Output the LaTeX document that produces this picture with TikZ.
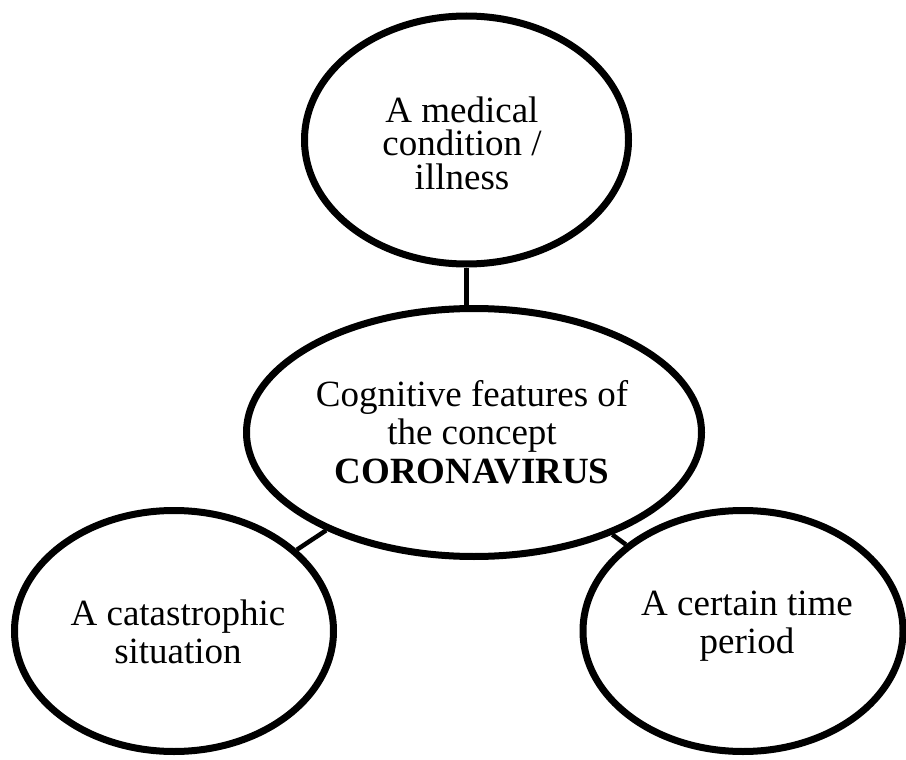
\documentclass[tikz,border=0pt]{standalone}
\usepackage{fontspec}
\setmainfont{Liberation Serif}
\usetikzlibrary{shapes.geometric}
\tikzset{
  bubble/.style={draw=black, line width=7pt, fill=white, ellipse, inner sep=0pt},
  label text/.style={inner sep=0pt, align=center, font=\fontsize{37}{38.5}\selectfont},
  tight text/.style={inner sep=0pt, align=center, font=\fontsize{37}{33.5}\selectfont},
  link/.style={draw=black, line width=4.5pt}
}
\begin{document}
\begin{tikzpicture}[x=1pt,y=-1pt]
\useasboundingbox (0,0) rectangle (906,760);
\fill[white] (0,0) rectangle (906,760);
\node[bubble, minimum width=324pt, minimum height=248pt] (top) at (466.5,140) {};
\node[bubble, minimum width=455pt, minimum height=248pt] (center) at (474,432.5) {};
\node[bubble, minimum width=319pt, minimum height=241pt] (left) at (174,631) {};
\node[bubble, minimum width=320pt, minimum height=241pt] (right) at (743,631) {};
\node[tight text] (ttop) at (462,143) {A medical\\condition /\\illness};
\node[label text] (tcenter) at (472,432) {Cognitive features of\\the concept\\\textbf{CORONAVIRUS}};
\node[label text] (tleft) at (178,632) {A catastrophic\\situation};
\node[label text] (tright) at (747,626) {A certain time\\period};
\draw[link] (top.south) -- (top.south |- center.north);
\draw[link] (center) -- (left);
\draw[link] (center) -- (right);
\end{tikzpicture}
\end{document}
